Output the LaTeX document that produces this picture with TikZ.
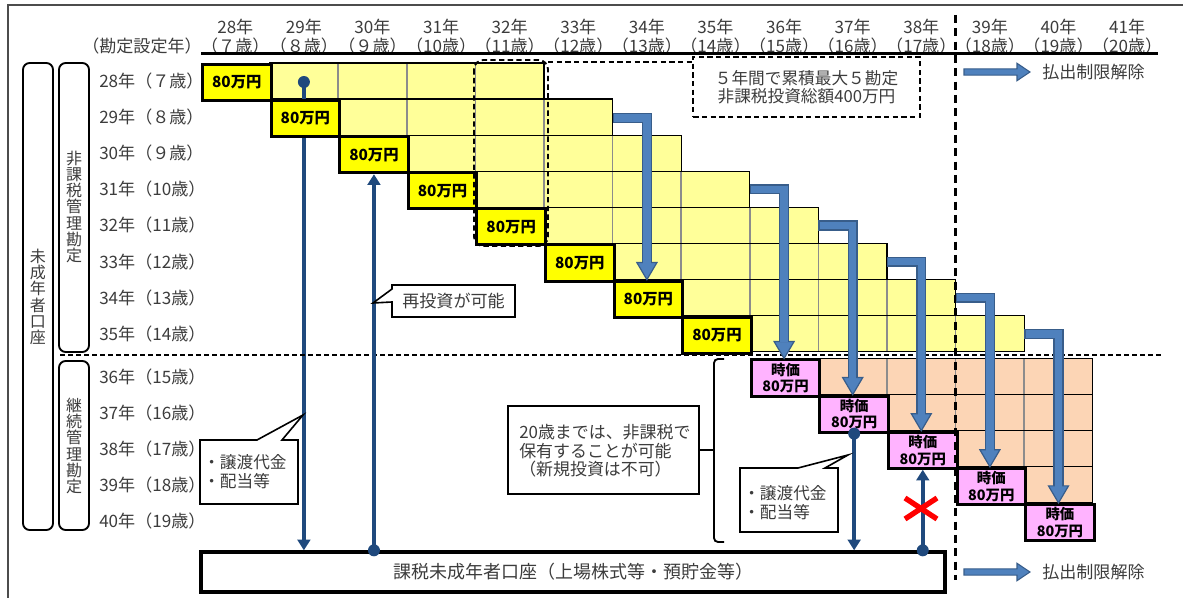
\documentclass[tikz,border=0pt]{standalone}
\usepackage{fontspec}
\setmainfont{Noto Sans CJK JP}
\usetikzlibrary{arrows.meta}
\definecolor{lyel}{HTML}{FFFF99}
\definecolor{byel}{HTML}{FFFF00}
\definecolor{peach}{HTML}{FCD5B5}
\definecolor{pinkc}{HTML}{FFB3FF}
\definecolor{bfill}{HTML}{4F81BD}
\definecolor{bline}{HTML}{385D8A}
\definecolor{dblue}{HTML}{1F497D}
\definecolor{gline}{HTML}{8C8C8C}
\definecolor{txt}{HTML}{3C3C3C}
\newcommand\bentarr[4]{%
  \draw[line width=7.6pt, bline, line join=miter] (#1,#2) -- (#3,#2) -- (#3,#4-15);
  \draw[bline, fill=bfill, line width=0.9pt, line join=miter] (#3-10,#4-17) -- (#3+10,#4-17) -- (#3,#4) -- cycle;
  \draw[line width=5.6pt, bfill, line join=miter] (#1+1.3,#2) -- (#3,#2) -- (#3,#4-16);
}
\tikzset{
  lab/.style={font=\fontsize{12.8}{13.5}\selectfont, text=txt, inner sep=0pt},
  vlab/.style={font=\fontsize{12}{12.2}\selectfont, text=txt, inner sep=0pt, align=center},
  amtbox/.style={draw=black, line width=2.2pt, fill=byel, minimum width=51.45pt, minimum height=27.07pt, inner sep=0pt, anchor=north west, font=\bfseries\fontsize{11.5}{12}\selectfont},
  mvbox/.style={amtbox, fill=pinkc, align=center, font=\bfseries\fontsize{10.8}{12.6}\selectfont},
  dsh/.style={dash pattern=on 4pt off 2.5pt, line width=1.4pt},
  conn/.style={dblue, line width=3pt},
  tipd/.style={-{Triangle[width=9.5pt,length=8pt]}},
  dotc/.style={fill=dblue, circle, inner sep=0pt, minimum size=9pt},
  callout/.style={draw=black, fill=white, line width=1.2pt, line join=miter},
  lbox/.style={draw=black, line width=1.4pt, rounded corners=5pt},
  relarr/.style={draw=bline, fill=bfill, line width=0.8pt},
}
\begin{document}
\begin{tikzpicture}[x=0.75pt, y=-0.75pt]
\useasboundingbox (0,0) rectangle (1183,598);
% frame
\draw[line width=1.4pt, black!70] (8,610) -- (8,5) -- (1195,5);

% header
\node[lab, anchor=east] (hdr) at (202,46) {（勘定設定年）};
\foreach \i/\yr/\ag in {0/28/７,1/29/８,2/30/９,3/31/10,4/32/11,5/33/12,6/34/13,7/35/14,8/36/15,9/37/16,10/38/17,11/39/18,12/40/19,13/41/20}{
  \node[lab] (hy\i) at ({201+68.6*(\i+0.5)},27) {\yr 年};
  \node[lab] (ha\i) at ({201+68.6*(\i+0.5)},46) {（\ag 歳）};
}
\draw[line width=1.6pt] (201,53.5) -- (1158,53.5);

% row labels
\foreach \r/\yr/\ag in {0/28/７,1/29/８,2/30/９,3/31/10,4/32/11,5/33/12,6/34/13,7/35/14}
  \node[lab, anchor=west] (rl\r) at (99,{63+36.1*(\r+0.5)}) {\yr 年（\ag 歳）};
\foreach \r/\yr/\ag in {8/36/15,9/37/16,10/38/17,11/39/18,12/40/19}
  \node[lab, anchor=west] (rl\r) at (99,{358.5+36.1*(\r-7.5)}) {\yr 年（\ag 歳）};

% left account boxes
\draw[lbox] (23,63) rectangle (53,530);
\node[vlab] (acc) at (38,297) {未\\成\\年\\者\\口\\座};
\draw[lbox] (59,63) rectangle (89,352);
\node[vlab] (ntx) at (74,207) {非\\課\\税\\管\\理\\勘\\定};
\draw[lbox] (59,361) rectangle (89,530);
\node[vlab] (ctx) at (74,446) {継\\続\\管\\理\\勘\\定};

% yellow cells
\foreach \r in {0,...,7}
  \fill[lyel] ({201+68.6*(\r+1)},{63+36.1*\r}) rectangle ({201+68.6*(\r+5)},{63+36.1*(\r+1)});
\foreach \k in {2,...,11}{
  \pgfmathsetmacro\ya{63+36.1*max(0,\k-4)}
  \pgfmathsetmacro\yb{63+36.1*(min(7,\k-2)+1)}
  \draw[gline, line width=1.1pt] ({201+68.6*\k},\ya) -- ({201+68.6*\k},\yb);
}
\foreach \r in {0,...,7}
  \draw[line width=0.9pt] ({201+68.6*(\r+1)},{63+36.1*\r}) rectangle ({201+68.6*(\r+5)},{63+36.1*(\r+1)});

% peach cells
\foreach \r in {8,...,11}
  \fill[peach] ({201+68.6*(\r+1)},{358.5+36.1*(\r-8)}) rectangle ({201+68.6*13},{358.5+36.1*(\r-7)});
\foreach \k in {10,11,12}
  \draw[gline, line width=1.1pt] ({201+68.6*\k},358.5) -- ({201+68.6*\k},{358.5+36.1*(\k-9)});
\foreach \r in {8,...,11}
  \draw[line width=0.9pt] ({201+68.6*(\r+1)},{358.5+36.1*(\r-8)}) rectangle ({201+68.6*13},{358.5+36.1*(\r-7)});

% bottom taxable account
\node[draw, line width=2.5pt, minimum width=558pt, minimum height=30pt, inner sep=0pt, font=\fontsize{13.5}{14}\selectfont, text=txt] (acct) at (573,572) {課税未成年者口座（上場株式等・預貯金等）};

% connector A (behind the 29 box)
\node[dotc] (dA) at (303.9,82) {};
\draw[conn, tipd] (dA.center) -- (dA.center |- acct.north);

% amount boxes
\foreach \r in {0,...,7}
  \node[amtbox] (b\r) at ({201+68.6*\r},{63+36.1*\r}) {80万円};
\foreach \r in {8,...,12}
  \node[mvbox] (p\r) at ({201+68.6*\r},{358.5+36.1*(\r-8)}) {時価\\80万円};

% dashed separators
\draw[dash pattern=on 3.5pt off 2.5pt, line width=1.2pt] (60,355) -- (1163,355);
\draw[dash pattern=on 6pt off 4pt, line width=2pt] (955.6,15) -- (955.6,580);

% connectors B, C, D
\node[dotc] (dB) at (b2.south |- acct.north) {};
\draw[conn, tipd] (dB.center) -- (b2.south);
\node[dotc] (dC) at (p9.south) {};
\draw[conn, tipd] (dC.center) -- (dC.center |- acct.north);
\node[dotc] (dD) at (p10.south |- acct.north) {};
\draw[conn, tipd] (dD.center) -- (p10.south);

% bent block arrows
\bentarr{612.6}{118}{646.9}{279.6}
\bentarr{749.8}{189.4}{784.1}{358.5}
\bentarr{818.4}{225.5}{852.7}{394.6}
\bentarr{887.0}{261.6}{921.3}{430.7}
\bentarr{955.6}{297.7}{989.9}{466.8}
\bentarr{1024.2}{333.8}{1058.5}{502.9}

% dashed group and note
\draw[dsh, rounded corners=7pt] (474,60) rectangle (548,246);
\node[draw, dsh, minimum width=170pt, minimum height=45pt, inner sep=0pt, align=center, font=\fontsize{12.5}{13.5}\selectfont, text=txt] (note) at (806.5,87) {５年間で累積最大５勘定\\非課税投資総額400万円};
\coordinate (rb) at (548,62);
\draw[dsh] (rb) -- (rb -| note.west);

% callout reinvest
\draw[callout] (392,285) -- (515,285) -- (515,317) -- (392,317) -- (392,302) -- (373,303) -- (392,289) -- cycle;
\node[lab] (reinv) at (453.5,301) {再投資が可能};

% callouts proceeds
\draw[callout] (200,440) -- (257,440) -- (303,415) -- (282,440) -- (298,440) -- (298,504) -- (200,504) -- cycle;
\node[lab, anchor=west, align=left, font=\fontsize{12.5}{14.3}\selectfont] (clA) at (203,472) {・譲渡代金\\・配当等};
\draw[callout] (740,468) -- (798,468) -- (848,455) -- (825,468) -- (838,468) -- (838,532) -- (740,532) -- cycle;
\node[lab, anchor=west, align=left, font=\fontsize{12.5}{14.3}\selectfont] (clB) at (743,502.5) {・譲渡代金\\・配当等};

% keep-until-20 box with brace
\node[draw, line width=1.2pt, minimum width=143.25pt, minimum height=66pt] (keep) at (603.5,450) {};
\node[lab, anchor=west, align=left, font=\fontsize{12.7}{13.9}\selectfont] (keeptx) at (519,451) {20歳までは、非課税で\\保有することが可能\\（新規投資は不可）};
\draw[line width=1.4pt, rounded corners=3pt] (724,359) -- (714,359) -- (714,542) -- (724,542);
\draw[line width=1.4pt] (keep.east) -- (714,450);

% release arrows
\draw[relarr] (964,68.8) -- (1017,68.8) -- (1017,63.3) -- (1030,72) -- (1017,80.7) -- (1017,75.2) -- (964,75.2) -- cycle;
\node[lab, anchor=west] (rel1) at (1042,72) {払出制限解除};
\draw[relarr] (964,568.8) -- (1017,568.8) -- (1017,563.3) -- (1030,572) -- (1017,580.7) -- (1017,575.2) -- (964,575.2) -- cycle;
\node[lab, anchor=west] (rel2) at (1042,572) {払出制限解除};

% red cross
\draw[red, line width=4pt] (905,498) -- (937,519) (905,519) -- (937,498);
\end{tikzpicture}
\end{document}
